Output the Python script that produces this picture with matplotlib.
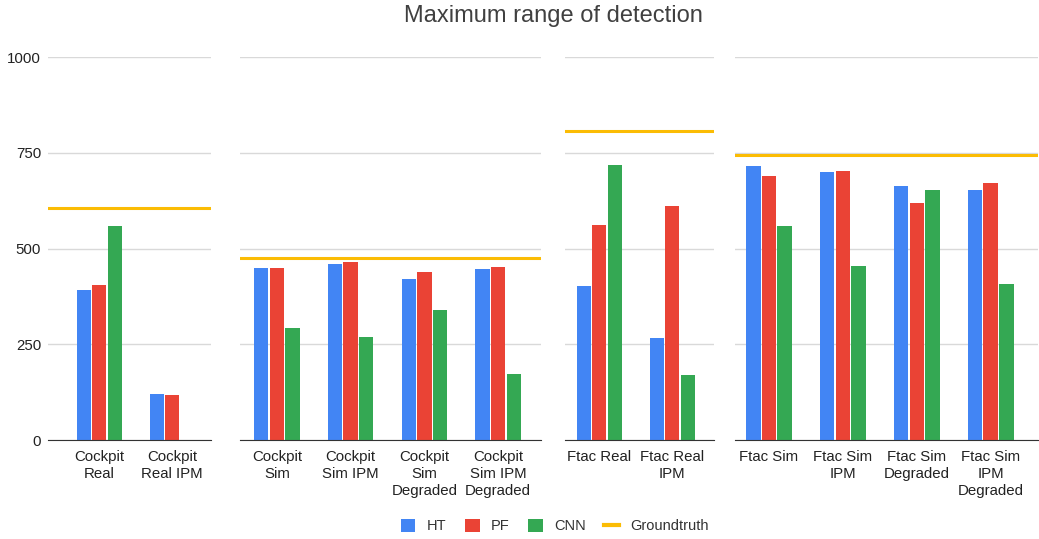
"""Maximum range of detection: grouped bars per scenario with groundtruth line."""

import matplotlib

matplotlib.use("Agg")
import matplotlib.pyplot as plt
from matplotlib.lines import Line2D
from matplotlib.patches import Patch
import numpy as np

HT_COLOR = "#4285f4"
PF_COLOR = "#ea4335"
CNN_COLOR = "#34a853"
GT_COLOR = "#fbbc04"
GRID = "#d9d9d9"
TEXT = "#222222"

plt.rcParams["font.family"] = ["Liberation Sans", "DejaVu Sans"]

# panel 1: Cockpit real
p1_labels = ["Cockpit\nReal", "Cockpit\nReal IPM"]
p1_ht = [391, 120]
p1_pf = [405, 117]
p1_cnn = [559, 0]
p1_gt = 606

# panel 2: Cockpit sim
p2_labels = ["Cockpit\nSim", "Cockpit\nSim IPM", "Cockpit\nSim\nDegraded", "Cockpit\nSim IPM\nDegraded"]
p2_ht = [449, 459, 421, 446]
p2_pf = [449, 465, 439, 452]
p2_cnn = [292, 270, 339, 173]
p2_gt = 476

# panel 3: Ftac real
p3_labels = ["Ftac Real", "Ftac Real\nIPM"]
p3_ht = [402, 267]
p3_pf = [562, 612]
p3_cnn = [719, 170]
p3_gt = 808

# panel 4: Ftac sim
p4_labels = ["Ftac Sim", "Ftac Sim\nIPM", "Ftac Sim\nDegraded", "Ftac Sim\nIPM\nDegraded"]
p4_ht = [716, 701, 662, 653]
p4_pf = [688, 703, 619, 672]
p4_cnn = [559, 455, 653, 407]
p4_gt = 744

y_ticks = [0, 250, 500, 750, 1000]

W, H = 1039, 539
fig = plt.figure(figsize=(W / 100, H / 100), dpi=100)

y_bottom, y_top = 440, 57
panels = [
    # (left px, right px, xlim, labels, ht, pf, cnn, gt)
    (48, 211, (-0.70, 1.53), p1_labels, p1_ht, p1_pf, p1_cnn, p1_gt),
    (240, 541, (-0.50, 3.58), p2_labels, p2_ht, p2_pf, p2_cnn, p2_gt),
    (565, 714, (-0.47, 1.57), p3_labels, p3_ht, p3_pf, p3_cnn, p3_gt),
    (735, 1038, (-0.46, 3.64), p4_labels, p4_ht, p4_pf, p4_cnn, p4_gt),
]

bw = 0.195
off = 0.212
for i, (x0, x1, xlim, labels, ht, pf, cnn, gt) in enumerate(panels):
    ax = fig.add_axes([x0 / W, (H - y_bottom) / H, (x1 - x0) / W, (y_bottom - y_top) / H])
    x = np.arange(len(labels))
    ax.bar(x - off, ht, bw, color=HT_COLOR, zorder=3)
    ax.bar(x, pf, bw, color=PF_COLOR, zorder=3)
    ax.bar(x + off, cnn, bw, color=CNN_COLOR, zorder=3)
    ax.axhline(gt, color=GT_COLOR, linewidth=2.2, zorder=4)
    ax.set_xlim(*xlim)
    ax.set_ylim(0, 1000)
    ax.set_yticks(y_ticks)
    ax.grid(True, axis="y", color=GRID, linewidth=1, zorder=0)
    ax.set_xticks(x)
    ax.set_xticklabels(labels, fontsize=10.8, color=TEXT, linespacing=1.3)
    ax.tick_params(axis="x", length=0, pad=7)
    ax.tick_params(axis="y", length=0, pad=5, labelsize=10.8, labelcolor=TEXT)
    if i > 0:
        ax.set_yticklabels([])
    for name, sp in ax.spines.items():
        sp.set_visible(name == "bottom")
    ax.spines["bottom"].set_color("#333333")
    ax.spines["bottom"].set_zorder(5)

fig.text(553 / W, 1 - 16 / H, "Maximum range of detection", ha="center", va="center",
         fontsize=17, color="#404040")

handles = [
    Patch(facecolor=HT_COLOR, label="HT"),
    Patch(facecolor=PF_COLOR, label="PF"),
    Patch(facecolor=CNN_COLOR, label="CNN"),
    Line2D([0], [0], color=GT_COLOR, linewidth=3, label="Groundtruth"),
]
fig.legend(handles=handles, loc="center", bbox_to_anchor=(555 / W, 1 - 526 / H), ncol=4,
           frameon=False, fontsize=10.5, handlelength=1.0, handleheight=1.0,
           handletextpad=0.8, columnspacing=1.25, labelcolor="#333333")

fig.savefig("out.png", dpi=100, facecolor="white")
